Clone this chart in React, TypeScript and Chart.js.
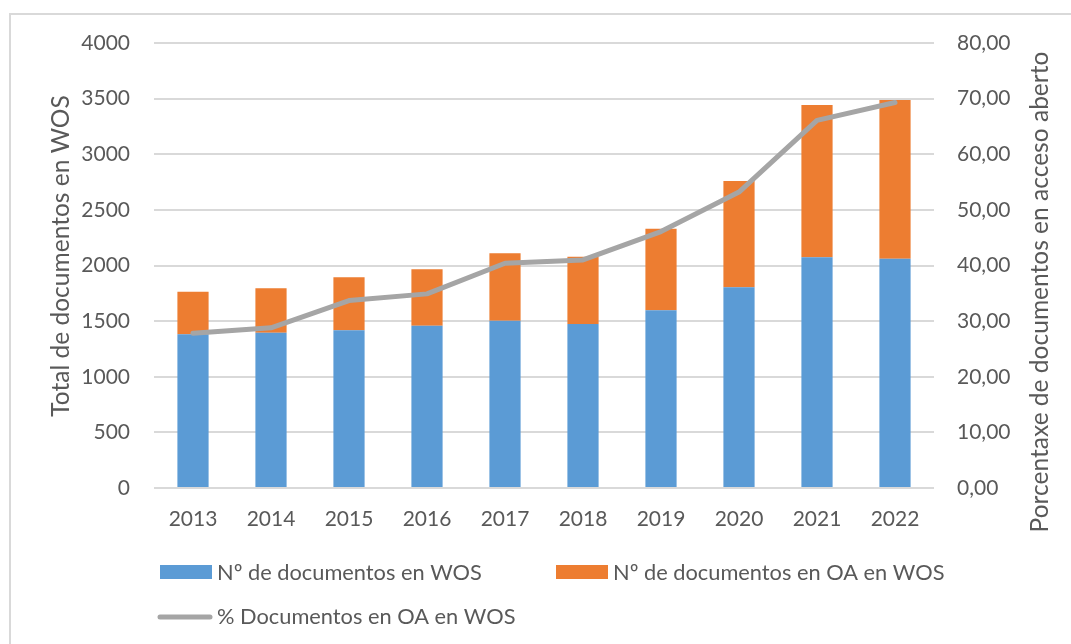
import React, { useEffect, useRef } from "react";
import { Chart, registerables } from "chart.js";

Chart.register(...registerables);

const years = ["2013", "2014", "2015", "2016", "2017", "2018", "2019", "2020", "2021", "2022"];
const wosDocs = [1381, 1396, 1417, 1459, 1504, 1474, 1597, 1804, 2074, 2061];
const oaDocs = [384, 399, 477, 507, 606, 605, 734, 956, 1369, 1427];
const oaPercent = [27.8, 28.8, 33.7, 34.9, 40.4, 41.0, 46.1, 53.2, 66.1, 69.3];
const seriesNames = [
  "Nº de documentos en WOS",
  "Nº de documentos en OA en WOS",
  "% Documentos en OA en WOS",
];
const leftTitle = "Total de documentos en WOS";
const rightTitle = "Porcentaxe de documentos en acceso aberto";

const BLUE = "#5b9bd5";
const ORANGE = "#ed7d31";
const GRAY = "#a5a5a5";
const TEXT = "#595959";
const GRID = "#d9d9d9";
const FONT = "Lato";
const FS = 21;

// font size that makes a text span a given width
function fitSize(ctx: CanvasRenderingContext2D, text: string, target: number) {
  ctx.font = `20px ${FONT}`;
  const w = ctx.measureText(text).width;
  return (20 * target) / w;
}

const overlayPlugin = {
  id: "overlay",
  afterDraw(chart: any) {
    const ctx = chart.ctx as CanvasRenderingContext2D;
    ctx.save();
    ctx.fillStyle = TEXT;
    ctx.textBaseline = "middle";
    ctx.textAlign = "center";
    // axis titles (both read bottom-to-top)
    const tSize = fitSize(ctx, rightTitle, 481);
    ctx.font = `${tSize}px ${FONT}`;
    ctx.save();
    ctx.translate(61, 256);
    ctx.rotate(-Math.PI / 2);
    ctx.fillText(leftTitle, 0, 0);
    ctx.restore();
    ctx.save();
    ctx.translate(1040, 292);
    ctx.rotate(-Math.PI / 2);
    ctx.fillText(rightTitle, 0, 0);
    ctx.restore();

    // legend
    const lSize = fitSize(ctx, seriesNames[0], 265);
    ctx.textAlign = "left";
    ctx.fillStyle = BLUE;
    ctx.fillRect(160, 565, 52, 14);
    ctx.fillStyle = ORANGE;
    ctx.fillRect(556, 565, 52, 14);
    ctx.strokeStyle = GRAY;
    ctx.lineWidth = 5;
    ctx.lineCap = "round";
    ctx.beginPath();
    ctx.moveTo(160, 617);
    ctx.lineTo(210, 617);
    ctx.stroke();
    ctx.fillStyle = TEXT;
    ctx.font = `${lSize}px ${FONT}`;
    ctx.fillText(seriesNames[0], 217, 573);
    ctx.fillText(seriesNames[1], 613, 573);
    ctx.fillText(seriesNames[2], 217, 617);
    ctx.restore();
  },
};

export default function App() {
  const ref = useRef<HTMLCanvasElement | null>(null);

  useEffect(() => {
    if (!ref.current) return;
    const chart = new Chart(ref.current, {
      type: "bar",
      data: {
        labels: years,
        datasets: [
          {
            type: "line",
            label: seriesNames[2],
            data: oaPercent,
            yAxisID: "y1",
            borderColor: GRAY,
            backgroundColor: GRAY,
            borderWidth: 5,
            pointRadius: 0,
            borderCapStyle: "round",
            borderJoinStyle: "round",
            tension: 0,
            order: 0,
          } as any,
          {
            type: "bar",
            label: seriesNames[0],
            data: wosDocs,
            yAxisID: "y",
            backgroundColor: BLUE,
            barPercentage: 0.4,
            categoryPercentage: 1,
            order: 1,
          },
          {
            type: "bar",
            label: seriesNames[1],
            data: oaDocs,
            yAxisID: "y",
            backgroundColor: ORANGE,
            barPercentage: 0.4,
            categoryPercentage: 1,
            order: 2,
          },
        ],
      },
      options: {
        animation: false,
        responsive: false,
        maintainAspectRatio: false,
        layout: { padding: { top: 43, left: 0, right: 0, bottom: 0 } },
        plugins: {
          legend: { display: false },
          tooltip: { enabled: false },
          title: { display: false },
        },
        scales: {
          x: {
            stacked: true,
            offset: true,
            grid: { display: false, drawTicks: false },
            border: { display: false },
            ticks: {
              color: TEXT,
              font: { family: FONT, size: FS },
              padding: 19,
              maxRotation: 0,
            },
            afterFit(scale: any) {
              scale.height = 156;
            },
          },
          y: {
            position: "left",
            stacked: true,
            min: 0,
            max: 4000,
            grid: { color: GRID, lineWidth: 2, drawTicks: false },
            border: { display: false },
            ticks: {
              stepSize: 500,
              color: TEXT,
              font: { family: FONT, size: FS },
              padding: 24,
              callback: (v: any) => String(v),
            },
            afterFit(scale: any) {
              scale.width = 154;
            },
          },
          y1: {
            position: "right",
            min: 0,
            max: 80,
            grid: { display: false, drawTicks: false },
            border: { display: false },
            ticks: {
              stepSize: 10,
              color: TEXT,
              font: { family: FONT, size: FS },
              padding: 23,
              callback: (v: any) => Number(v).toFixed(2).replace(".", ","),
            },
            afterFit(scale: any) {
              scale.width = 137;
            },
          },
        },
      },
      plugins: [overlayPlugin],
    });
    return () => chart.destroy();
  }, []);

  return (
    <div style={{ position: "absolute", left: 0, top: 0, width: 1071, height: 644, background: "#fff" }}>
      <div
        style={{
          position: "absolute",
          left: 9,
          top: 13,
          width: 1100,
          height: 700,
          borderLeft: `2px solid ${GRID}`,
          borderTop: `2px solid ${GRID}`,
          boxSizing: "border-box",
        }}
      />
      <canvas ref={ref} width={1071} height={644} style={{ position: "absolute", left: 0, top: 0, display: "block" }} />
    </div>
  );
}
